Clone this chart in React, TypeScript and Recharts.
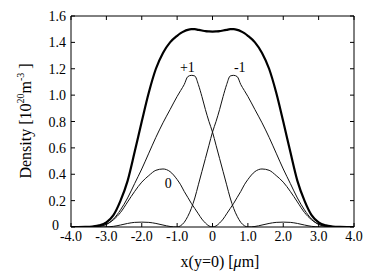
import React from 'react';
import { LineChart, Line, XAxis, YAxis, ReferenceDot } from 'recharts';

const xs = [-4.0, -3.8, -3.6, -3.4, -3.2, -3.0, -2.8, -2.6, -2.4, -2.2, -2.0, -1.8, -1.6, -1.4, -1.2, -1.0,
  -0.9, -0.8, -0.7, -0.6, -0.5, -0.4, -0.3, -0.2, -0.1, 0, 0.1, 0.2, 0.3, 0.4, 0.5, 0.6, 0.7, 0.8, 0.9,
  1.0, 1.2, 1.4, 1.6, 1.8, 2.0, 2.2, 2.4, 2.6, 2.8, 3.0, 3.2, 3.4, 3.6, 3.8, 4.0];

const total = [0, 0, 0.001, 0.004, 0.012, 0.035, 0.09, 0.2, 0.35, 0.57, 0.8, 1.02, 1.2, 1.32, 1.4, 1.45,
  1.47, 1.485, 1.495, 1.5, 1.5, 1.495, 1.49, 1.485, 1.483, 1.482, 1.483, 1.485, 1.49, 1.495, 1.5, 1.5, 1.495, 1.485, 1.47,
  1.45, 1.4, 1.32, 1.2, 1.02, 0.8, 0.57, 0.35, 0.2, 0.09, 0.035, 0.012, 0.004, 0.001, 0, 0];

const plus1 = [0, 0, 0, 0.002, 0.006, 0.02, 0.06, 0.13, 0.22, 0.33, 0.44, 0.56, 0.68, 0.79, 0.89, 0.99,
  1.035, 1.08, 1.14, 1.15, 1.145, 1.08, 0.99, 0.89, 0.8, 0.72, 0.62, 0.52, 0.42, 0.32, 0.22, 0.14, 0.08, 0.035, 0.01,
  0, 0.004, 0.015, 0.027, 0.035, 0.037, 0.035, 0.027, 0.015, 0.005, 0.001, 0, 0, 0, 0, 0];

const minus1 = [0, 0, 0, 0, 0, 0.001, 0.005, 0.015, 0.027, 0.035, 0.037, 0.035, 0.027, 0.015, 0.004, 0,
  0.01, 0.035, 0.08, 0.14, 0.22, 0.32, 0.42, 0.52, 0.62, 0.72, 0.8, 0.89, 0.99, 1.08, 1.145, 1.15, 1.14, 1.08, 1.035,
  0.99, 0.89, 0.79, 0.68, 0.56, 0.44, 0.33, 0.22, 0.13, 0.06, 0.02, 0.006, 0.002, 0, 0, 0];

const zero = [0, 0, 0, 0.002, 0.006, 0.02, 0.055, 0.11, 0.19, 0.27, 0.34, 0.39, 0.43, 0.44, 0.42, 0.36,
  0.32, 0.27, 0.225, 0.18, 0.14, 0.1, 0.06, 0.03, 0.008, 0, 0.008, 0.03, 0.06, 0.1, 0.14, 0.18, 0.225, 0.27, 0.32,
  0.36, 0.42, 0.44, 0.43, 0.39, 0.34, 0.27, 0.19, 0.11, 0.055, 0.02, 0.006, 0.002, 0, 0, 0];

const xTicks = [-4, -3, -2, -1, 0, 1, 2, 3, 4];
const xTickLabels = ['-4.0', '-3.0', '-2.0', '-1.0', '0', '1.0', '2.0', '3.0', '4.0'];
const yTicks = [0, 0.2, 0.4, 0.6, 0.8, 1.0, 1.2, 1.4, 1.6];
const yTickLabels = ['0', '0.2', '0.4', '0.6', '0.8', '1.0', '1.2', '1.4', '1.6'];

const modeLabels = [
  { x: -0.71, y: 1.21, text: '+1' },
  { x: 0.77, y: 1.21, text: '-1' },
  { x: -1.25, y: 0.333, text: '0' },
];

const data = xs.map((x, i) => ({ x, total: total[i], plus1: plus1[i], minus1: minus1[i], zero: zero[i] }));

const FONT = '"Liberation Serif", "DejaVu Serif", serif';
const TICK_LEN = 4;

const BottomTick = (props: any) => {
  const { x, y, payload } = props;
  const i = xTicks.indexOf(payload.value);
  return (
    <g>
      <line x1={x} y1={y} x2={x} y2={y - TICK_LEN} stroke="#000" strokeWidth={1} />
      <text x={x} y={y + 14} textAnchor="middle" fontSize={14} fontFamily={FONT} fill="#000">
        {xTickLabels[i]}
      </text>
    </g>
  );
};

const TopTick = (props: any) => {
  const { x, y } = props;
  return <line x1={x} y1={y} x2={x} y2={y + TICK_LEN} stroke="#000" strokeWidth={1} />;
};

const LeftTick = (props: any) => {
  const { x, y, payload } = props;
  const i = yTicks.findIndex((v) => Math.abs(v - payload.value) < 1e-6);
  const isZero = i === 0;
  return (
    <g>
      <line x1={x} y1={y} x2={x + TICK_LEN} y2={y} stroke="#000" strokeWidth={1} />
      <text x={x - (isZero ? 12 : 5)} y={y + (isZero ? 3 : 5)} textAnchor="end" fontSize={14} fontFamily={FONT} fill="#000">
        {yTickLabels[i]}
      </text>
    </g>
  );
};

const RightTick = (props: any) => {
  const { x, y } = props;
  return <line x1={x} y1={y} x2={x - TICK_LEN} y2={y} stroke="#000" strokeWidth={1} />;
};

const XTitle = () => (
  <text x={220} y={267} textAnchor="middle" fontSize={16} fontFamily={FONT} fill="#000">
    x(y=0) [<tspan fontStyle="italic">μ</tspan>m]
  </text>
);

const YTitle = () => (
  <text
    x={0}
    y={0}
    transform="translate(31,121) rotate(-90)"
    textAnchor="middle"
    fontSize={16}
    fontFamily={FONT}
    fill="#000"
  >
    Density  [10<tspan dy={-7} fontSize={10}>20</tspan>
    <tspan dy={7}>m</tspan>
    <tspan dy={-7} fontSize={10}>-3</tspan>
    <tspan dy={7}> ]</tspan>
  </text>
);

export default function App() {
  return (
    <div style={{ position: 'absolute', left: 0, top: 0, background: '#fff' }}>
      <LineChart width={382} height={274} data={data} margin={{ top: 15, right: 27, bottom: 17, left: 0 }}>
        <XAxis
          xAxisId="b"
          dataKey="x"
          type="number"
          domain={[-4, 4]}
          ticks={xTicks}
          interval={0}
          tickSize={0}
          tickMargin={0}
          tickLine={false}
          axisLine={{ stroke: '#000', strokeWidth: 1 }}
          tick={<BottomTick />}
          height={30}
          allowDataOverflow
          label={<XTitle />}
        />
        <XAxis
          xAxisId="t"
          orientation="top"
          dataKey="x"
          type="number"
          domain={[-4, 4]}
          ticks={xTicks}
          interval={0}
          tickSize={0}
          tickMargin={0}
          tickLine={false}
          axisLine={{ stroke: '#000', strokeWidth: 1 }}
          tick={<TopTick />}
          height={1}
          allowDataOverflow
        />
        <YAxis
          yAxisId="l"
          type="number"
          domain={[0, 1.6]}
          ticks={yTicks}
          interval={0}
          tickSize={0}
          tickMargin={0}
          tickLine={false}
          axisLine={{ stroke: '#000', strokeWidth: 1 }}
          tick={<LeftTick />}
          width={71}
          allowDataOverflow
          label={<YTitle />}
        />
        <YAxis
          yAxisId="r"
          orientation="right"
          type="number"
          domain={[0, 1.6]}
          ticks={yTicks}
          interval={0}
          tickSize={0}
          tickMargin={0}
          tickLine={false}
          axisLine={{ stroke: '#000', strokeWidth: 1 }}
          tick={<RightTick />}
          width={1}
          allowDataOverflow
        />
        <Line xAxisId="b" yAxisId="l" type="monotone" dataKey="zero" stroke="#111" strokeWidth={1} dot={false} isAnimationActive={false} />
        <Line xAxisId="b" yAxisId="l" type="monotone" dataKey="plus1" stroke="#111" strokeWidth={1} dot={false} isAnimationActive={false} />
        <Line xAxisId="b" yAxisId="l" type="monotone" dataKey="minus1" stroke="#111" strokeWidth={1} dot={false} isAnimationActive={false} />
        <Line xAxisId="b" yAxisId="l" type="monotone" dataKey="total" stroke="#000" strokeWidth={2.2} dot={false} isAnimationActive={false} />
        {modeLabels.map((m) => (
          <ReferenceDot
            key={m.text}
            xAxisId="b"
            yAxisId="l"
            x={m.x}
            y={m.y}
            r={0}
            fill="none"
            stroke="none"
            label={{ value: m.text, position: 'center', fontSize: 14, fontFamily: FONT, fill: '#000' }}
          />
        ))}
      </LineChart>
    </div>
  );
}
